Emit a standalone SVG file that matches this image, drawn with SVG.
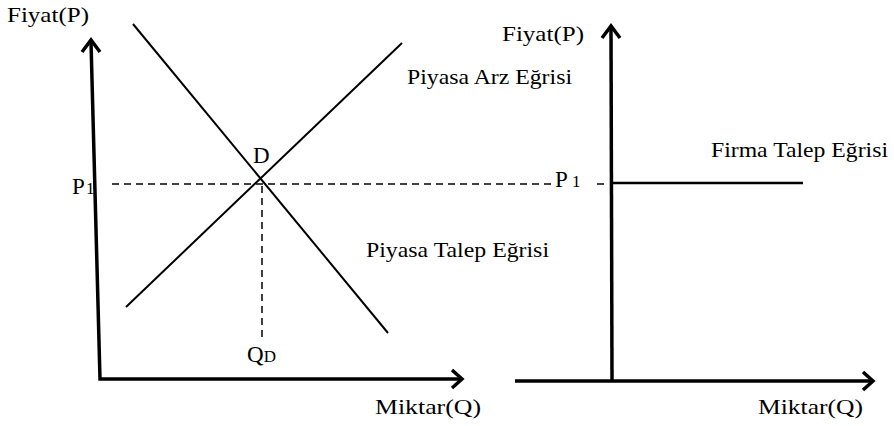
<svg xmlns="http://www.w3.org/2000/svg" width="894" height="426" viewBox="0 0 894 426" font-family="'Liberation Serif', 'Times New Roman', 'DejaVu Serif', serif">
<style>
text{font-family:'Liberation Serif','Times New Roman','DejaVu Serif',serif;fill:#000}
.lbl{font-size:22px}
.big{font-size:23px}
.ax{stroke:#000;stroke-width:3.5;fill:none;stroke-linecap:butt}
.head{stroke:#000;stroke-width:3.5;fill:none;stroke-linejoin:miter;stroke-linecap:butt}
.crv{stroke:#000;stroke-width:2;fill:none}
.dash{stroke:#000;stroke-width:1.5;fill:none;stroke-dasharray:7,5}
.sub{font-size:17px}
</style>
<rect width="894" height="426" fill="#fff"/>
<g id="connectors">
  <polyline class="ax" points="91,42 100,379 462,379"/>
  <polyline class="head" points="82,52 91,40 100,52"/>
  <polyline class="head" points="452,370 462,379 452,388"/>
  <line class="ax" x1="612" y1="380" x2="611" y2="27"/>
  <polyline class="head" points="602,38 611,26 620,38"/>
  <line class="ax" x1="515" y1="381" x2="873" y2="381"/>
  <polyline class="head" points="863,372 873,381 863,390"/>
  <line class="crv" x1="126" y1="307" x2="402" y2="43"/>
  <line class="crv" x1="133" y1="24" x2="388" y2="333"/>
  <line class="crv" x1="613" y1="183" x2="803" y2="183" style="stroke-width:2.5"/>
  <line class="dash" x1="112" y1="184" x2="551" y2="184"/>
  <line class="dash" x1="597" y1="184" x2="606" y2="184"/>
  <line class="dash" x1="262" y1="186" x2="262" y2="338"/>
</g>
<g id="left-y-label"><text class="lbl" x="7" y="22" textLength="82" lengthAdjust="spacingAndGlyphs">Fiyat(P)</text></g>
<g id="left-x-label"><text class="lbl" x="375" y="414" textLength="106" lengthAdjust="spacingAndGlyphs">Miktar(Q)</text></g>
<g id="supply-label"><text class="lbl" x="407" y="84" textLength="165" lengthAdjust="spacingAndGlyphs">Piyasa Arz Eğrisi</text></g>
<g id="demand-label"><text class="lbl" x="366" y="257" textLength="183" lengthAdjust="spacingAndGlyphs">Piyasa Talep Eğrisi</text></g>
<g id="point-D"><text class="big" x="253" y="163">D</text></g>
<g id="left-P1"><text class="big" x="72" y="194">P<tspan class="sub" x="86">1</tspan></text></g>
<g id="QD"><text class="big" x="247" y="362">Q<tspan class="sub">D</tspan></text></g>
<g id="right-y-label"><text class="lbl" x="502" y="41" textLength="82" lengthAdjust="spacingAndGlyphs">Fiyat(P)</text></g>
<g id="right-x-label"><text class="lbl" x="758" y="414" textLength="105" lengthAdjust="spacingAndGlyphs">Miktar(Q)</text></g>
<g id="firm-label"><text class="lbl" x="711" y="157" textLength="177" lengthAdjust="spacingAndGlyphs">Firma Talep Eğrisi</text></g>
<g id="right-P1"><text class="big" x="555" y="187">P<tspan class="sub" x="572">1</tspan></text></g>
</svg>
